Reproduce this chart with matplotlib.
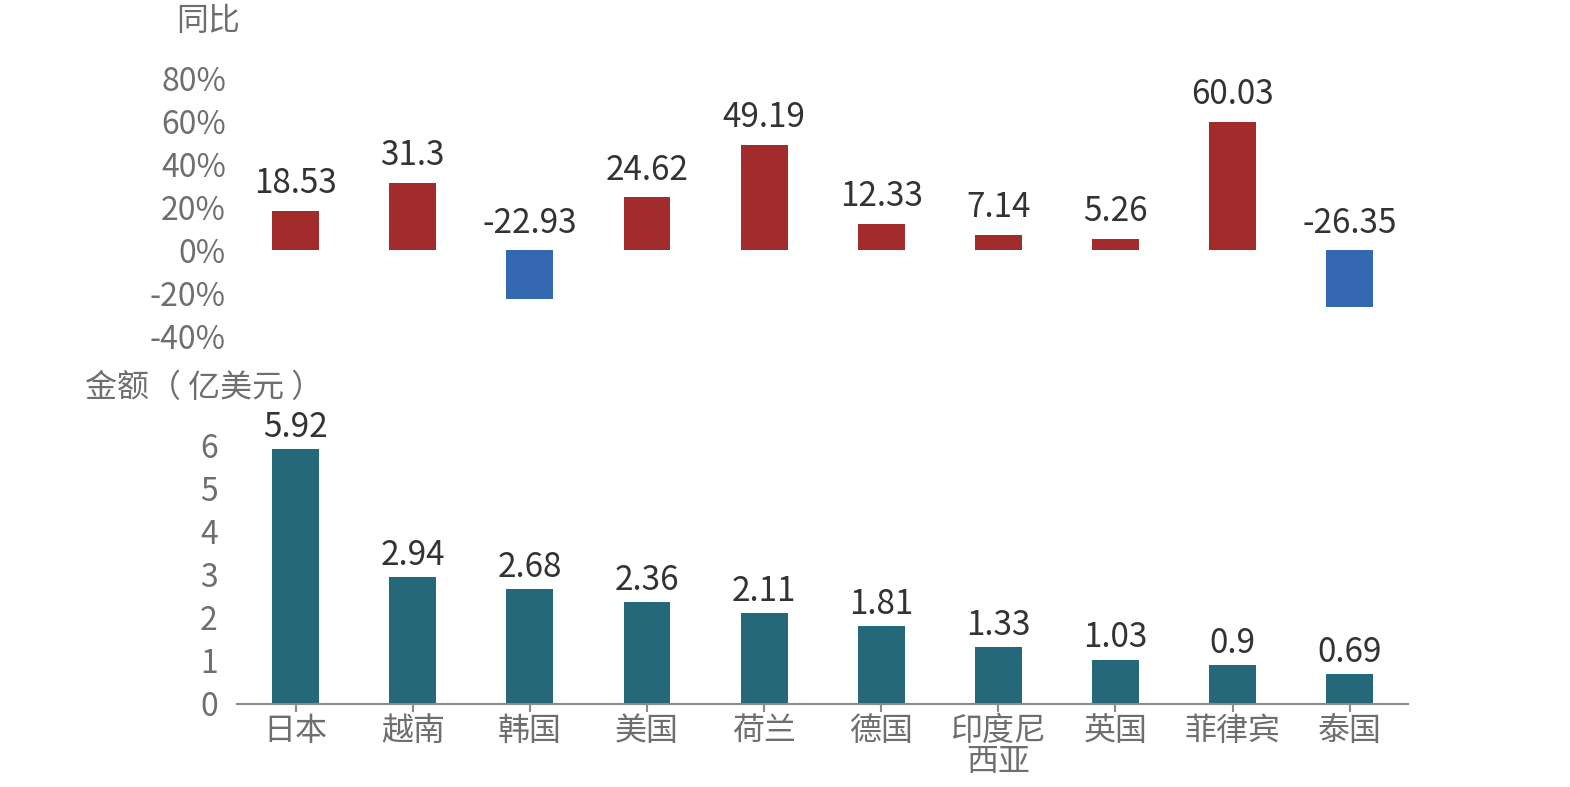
import matplotlib
matplotlib.use("Agg")
import matplotlib.pyplot as plt
from matplotlib.ticker import FuncFormatter

plt.rcParams['font.family'] = ['Noto Sans CJK SC', 'DejaVu Sans']

categories = ["日本", "越南", "韩国", "美国", "荷兰", "德国", "印度尼\n西亚", "英国", "菲律宾", "泰国"]
yoy = [18.53, 31.3, -22.93, 24.62, 49.19, 12.33, 7.14, 5.26, 60.03, -26.35]
amount = [5.92, 2.94, 2.68, 2.36, 2.11, 1.81, 1.33, 1.03, 0.9, 0.69]
yoy_ticks = [-40, -20, 0, 20, 40, 60, 80]
amt_ticks = [0, 1, 2, 3, 4, 5, 6]

RED = "#A22C2B"
BLUE = "#3468B0"
TEAL = "#256879"
TICK = "#6E6E6E"
LABEL = "#333333"
FS = 23
VFS = 24

fig = plt.figure(figsize=(15.7, 7.87), dpi=100)
x = list(range(len(categories)))

ax1 = fig.add_axes([0.151, 0.573, 0.746, 0.327])
ax2 = fig.add_axes([0.151, 0.1055, 0.746, 0.328])

# top chart
colors = [RED if v >= 0 else BLUE for v in yoy]
ax1.bar(x, yoy, width=0.4, color=colors)
for xi, v in zip(x, yoy):
    ax1.annotate(f"{v:g}", (xi, max(v, 0)), xytext=(0, 7), textcoords="offset points",
                 ha="center", va="bottom", fontsize=VFS, color=LABEL)
ax1.set_xlim(-0.5, len(categories) - 0.5)
ax1.set_ylim(-40, 80)
ax1.set_yticks(yoy_ticks)
ax1.yaxis.set_major_formatter(FuncFormatter(lambda v, p: f"{v:.0f}%"))
ax1.set_xticks([])
for s in ax1.spines.values():
    s.set_visible(False)
ax1.tick_params(axis="y", length=0, labelsize=FS, labelcolor=TICK, pad=8)
fig.text(0.153, 0.973, "同比", ha="right", va="center", fontsize=FS, color=TICK)

# bottom chart
ax2.bar(x, amount, width=0.4, color=TEAL)
for xi, v in zip(x, amount):
    ax2.annotate(f"{v:g}", (xi, v), xytext=(0, 3), textcoords="offset points",
                 ha="center", va="bottom", fontsize=VFS, color=LABEL)
ax2.set_xlim(-0.5, len(categories) - 0.5)
ax2.set_ylim(0, 6)
ax2.set_yticks(amt_ticks)
ax2.set_xticks(x)
ax2.set_xticklabels(categories, linespacing=0.95)
for k in ["top", "right", "left"]:
    ax2.spines[k].set_visible(False)
ax2.spines["bottom"].set_color("#8A8A8A")
ax2.spines["bottom"].set_linewidth(1.5)
ax2.tick_params(axis="y", length=0, labelsize=FS, labelcolor=TICK, pad=14)
ax2.tick_params(axis="x", length=6, width=1.5, color="#8A8A8A", labelsize=FS,
                labelcolor=TICK, pad=2)
fig.text(0.054, 0.507, "金额（ 亿美元 ）", ha="left", va="center", fontsize=FS, color=TICK)

fig.savefig("out.png", dpi=100)
